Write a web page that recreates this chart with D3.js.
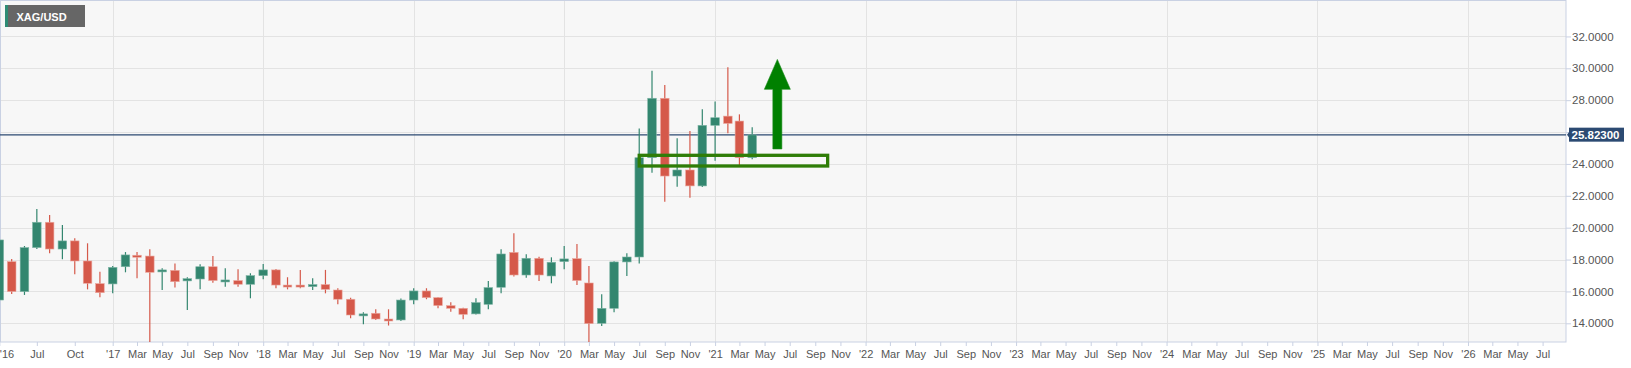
<!DOCTYPE html>
<html><head><meta charset="utf-8">
<script src="https://cdn.jsdelivr.net/npm/d3@7"></script>
<style>
body{margin:0;background:#fff;}
svg{display:block;font-family:"Liberation Sans",Arial,sans-serif;}
</style>
</head><body>
<svg id="c" width="1631" height="368"></svg>
<script>
// ---- data (monthly XAG/USD candles) ----
const months = ["2016-04","2016-05","2016-06","2016-07","2016-08","2016-09","2016-10","2016-11","2016-12",
"2017-01","2017-02","2017-03","2017-04","2017-05","2017-06","2017-07","2017-08","2017-09","2017-10","2017-11","2017-12",
"2018-01","2018-02","2018-03","2018-04","2018-05","2018-06","2018-07","2018-08","2018-09","2018-10","2018-11","2018-12",
"2019-01","2019-02","2019-03","2019-04","2019-05","2019-06","2019-07","2019-08","2019-09","2019-10","2019-11","2019-12",
"2020-01","2020-02","2020-03","2020-04","2020-05","2020-06","2020-07","2020-08","2020-09","2020-10","2020-11","2020-12",
"2021-01","2021-02","2021-03","2021-04"];
const open  = [15.46,17.87,15.99,18.75,20.34,18.66,19.17,17.91,16.49,
16.47,17.55,18.27,18.22,17.24,17.32,16.66,16.78,17.55,16.63,16.68,16.45,
16.99,17.35,16.40,16.40,16.30,16.43,16.09,15.51,14.48,14.63,14.27,14.21,
15.46,16.03,15.61,15.11,14.94,14.59,15.19,16.26,18.45,17.03,18.08,16.97,
17.87,18.06,16.53,14.00,14.94,17.85,18.16,24.39,28.12,23.24,23.62,22.62,
26.42,27.00,26.69,24.39];
const high  = [19.25,18.04,18.85,21.17,20.80,20.17,19.33,19.02,17.24,
17.60,18.47,18.47,18.64,17.45,17.76,16.89,17.70,18.22,17.45,17.39,17.14,
17.72,17.41,16.89,17.35,16.82,17.35,16.20,15.61,14.69,14.88,14.88,15.55,
16.20,16.20,15.63,15.32,14.98,15.57,16.66,18.64,19.65,18.33,18.18,18.14,
18.85,18.98,17.60,15.82,17.90,18.39,26.23,29.85,28.95,25.61,26.07,27.43,
27.91,30.06,27.11,26.30];
const low   = [14.73,15.84,15.78,18.66,18.39,18.02,17.07,16.13,15.63,
15.88,17.20,16.82,12.00,16.09,16.24,14.84,16.13,16.55,16.30,16.30,15.57,
16.76,16.20,16.13,16.20,16.09,15.88,15.19,14.31,13.94,14.21,13.86,14.15,
15.19,15.51,14.94,14.73,14.25,14.55,14.88,15.88,16.93,16.86,16.66,16.51,
17.39,16.40,11.64,13.83,14.69,16.97,17.76,23.45,21.63,22.57,21.88,22.55,
24.20,25.92,23.83,24.29];
const close = [19.23,15.99,18.75,20.34,18.66,19.17,17.91,16.51,15.92,
17.51,18.29,18.22,17.20,17.35,16.61,16.80,17.55,16.68,16.72,16.45,16.99,
17.35,16.40,16.32,16.30,16.43,16.13,15.51,14.52,14.59,14.27,14.17,15.46,
16.03,15.61,15.11,14.94,14.56,15.30,16.24,18.35,17.03,18.08,17.03,17.83,
18.04,16.68,13.98,14.94,17.85,18.16,24.39,28.12,23.24,23.62,22.62,26.42,
26.90,26.54,24.39,25.823];

const yGridValues = [14,16,18,20,22,24,26,28,30,32];
const yTickLabelValues = [14,16,18,20,22,24,28,30,32]; // 26 is hidden behind the last-price tag
const xTickDates = ["2016-04","2016-07","2016-10",
"2017-01","2017-03","2017-05","2017-07","2017-09","2017-11",
"2018-01","2018-03","2018-05","2018-07","2018-09","2018-11",
"2019-01","2019-03","2019-05","2019-07","2019-09","2019-11",
"2020-01","2020-03","2020-05","2020-07","2020-09","2020-11",
"2021-01","2021-03","2021-05","2021-07","2021-09","2021-11",
"2022-01","2022-03","2022-05","2022-07","2022-09","2022-11",
"2023-01","2023-03","2023-05","2023-07","2023-09","2023-11",
"2024-01","2024-03","2024-05","2024-07","2024-09","2024-11",
"2025-01","2025-03","2025-05","2025-07","2025-09","2025-11",
"2026-01","2026-03","2026-05","2026-07"];
const xTickLabels = ["'16","Jul","Oct",
"'17","Mar","May","Jul","Sep","Nov",
"'18","Mar","May","Jul","Sep","Nov",
"'19","Mar","May","Jul","Sep","Nov",
"'20","Mar","May","Jul","Sep","Nov",
"'21","Mar","May","Jul","Sep","Nov",
"'22","Mar","May","Jul","Sep","Nov",
"'23","Mar","May","Jul","Sep","Nov",
"'24","Mar","May","Jul","Sep","Nov",
"'25","Mar","May","Jul","Sep","Nov",
"'26","Mar","May","Jul"];
const yearLines = ["2017-01","2018-01","2019-01","2020-01","2021-01","2022-01","2023-01","2024-01","2025-01","2026-01"];

const lastPrice = 25.823;
const symbol = "XAG/USD";
// annotation: support box and up arrow
const boxDates = ["2020-07-01","2021-10-01"];
const boxPrices = [23.87, 24.54];
const arrowDate = "2021-06-01";
const arrowPrices = [24.94, 28.68, 30.56]; // base, head base, tip

// ---- layout ----
const W = 1631, H = 368;
const L = 0, R = 1566, T = 0, B = 342;
const parse = d3.timeParse("%Y-%m-%d");
const pm = s => parse(s.length === 7 ? s + "-01" : s);

const x = d3.scaleTime()
  .domain([pm("2017-01"), pm("2026-07")])
  .range([112.7, 1542.6]);
const y = d3.scaleLinear().domain([14, 30]).range([323.3, 68.3]);

const svg = d3.select("#c");
svg.append("rect").attr("x",0).attr("y",0).attr("width",W).attr("height",H).attr("fill","#ffffff");
svg.append("rect").attr("x",L).attr("y",T).attr("width",R-L).attr("height",B-T).attr("fill","#f7f7f7");

svg.append("defs").append("clipPath").attr("id","clip")
  .append("rect").attr("x",L).attr("y",T).attr("width",R-L).attr("height",B-T);

const grid = svg.append("g").attr("clip-path","url(#clip)");
grid.selectAll("line.h").data(yGridValues).join("line")
  .attr("x1",L).attr("x2",R)
  .attr("y1",d=>Math.round(y(d))+0.5).attr("y2",d=>Math.round(y(d))+0.5)
  .attr("stroke","#e3e3e3").attr("stroke-width",1);
grid.selectAll("line.v").data(yearLines).join("line")
  .attr("x1",d=>Math.round(x(pm(d)))+0.5).attr("x2",d=>Math.round(x(pm(d)))+0.5)
  .attr("y1",T).attr("y2",B)
  .attr("stroke","#e3e3e3").attr("stroke-width",1);

// plot border
svg.append("rect").attr("x",0.5).attr("y",0.5).attr("width",R-0.5).attr("height",B-0.5)
  .attr("fill","none").attr("stroke","#c9d1e3").attr("stroke-width",1);

// price line
svg.append("line").attr("x1",L).attr("x2",R)
  .attr("y1",y(lastPrice)).attr("y2",y(lastPrice))
  .attr("stroke","#2c4a72").attr("stroke-width",1.2);

// candles
const up = "#33866f", down = "#d5594a";
const bw = 8.6;
const cg = svg.append("g").attr("clip-path","url(#clip)");
const candles = months.map((m,i)=>({d:pm(m),o:open[i],h:high[i],l:low[i],c:close[i]}));
cg.selectAll("line.w").data(candles).join("line")
  .attr("x1",d=>x(d.d)).attr("x2",d=>x(d.d))
  .attr("y1",d=>y(d.h)).attr("y2",d=>y(d.l))
  .attr("stroke",d=>d.c>=d.o?up:down).attr("stroke-width",1.2);
cg.selectAll("rect.b").data(candles).join("rect")
  .attr("x",d=>x(d.d)-bw/2).attr("width",bw)
  .attr("y",d=>y(Math.max(d.o,d.c)))
  .attr("height",d=>Math.max(2,Math.abs(y(d.o)-y(d.c))))
  .attr("fill",d=>d.c>=d.o?up:down)
  .attr("stroke",d=>d.c>=d.o?"#7fb5a6":"#eba89f").attr("stroke-width",0.6);

// annotations
const ag = svg.append("g").attr("clip-path","url(#clip)");
ag.append("rect")
  .attr("x",x(pm(boxDates[0]))).attr("width",x(pm(boxDates[1]))-x(pm(boxDates[0])))
  .attr("y",y(boxPrices[1])).attr("height",y(boxPrices[0])-y(boxPrices[1]))
  .attr("fill","none").attr("stroke","#2f7d07").attr("stroke-width",3.3);
const ax = x(pm(arrowDate));
const shaftW = 4.5, headW = 13;
ag.append("polygon")
  .attr("points",[
    [ax-shaftW,y(arrowPrices[0])],[ax-shaftW,y(arrowPrices[1])],[ax-headW,y(arrowPrices[1])],
    [ax,y(arrowPrices[2])],
    [ax+headW,y(arrowPrices[1])],[ax+shaftW,y(arrowPrices[1])],[ax+shaftW,y(arrowPrices[0])]
  ].map(p=>p.join(",")).join(" "))
  .attr("fill","#008000").attr("stroke","#1a8a1a").attr("stroke-width",0.6);

// y axis: tick marks at every grid level, labels where visible
const ytg = svg.append("g").attr("transform",`translate(${R},0)`)
  .call(d3.axisRight(y).tickValues(yGridValues).tickFormat(()=>"").tickSize(5));
ytg.select(".domain").remove();
ytg.selectAll(".tick text").remove();
ytg.selectAll(".tick line").attr("stroke","#c9d1e3");
const yg = svg.append("g").attr("transform",`translate(${R},0)`)
  .call(d3.axisRight(y).tickValues(yTickLabelValues).tickFormat(d=>d.toFixed(4)).tickSize(5).tickPadding(1));
yg.select(".domain").remove();
yg.selectAll(".tick line").remove();
yg.selectAll(".tick text").attr("fill","#555").attr("font-size","11.5px")
  .attr("font-family","'Liberation Sans',Arial,sans-serif");

// x axis
const xAxis = d3.axisBottom(x).tickValues(xTickDates.map(pm))
  .tickFormat((d,i)=>xTickLabels[i]).tickSize(4).tickPadding(4);
const xg = svg.append("g").attr("transform",`translate(0,${B})`).call(xAxis);
xg.select(".domain").remove();
xg.selectAll(".tick line").attr("stroke","#c9d1e3");
xg.selectAll(".tick text").attr("fill","#555").attr("font-size","11px")
  .attr("font-family","'Liberation Sans',Arial,sans-serif");
xg.selectAll(".tick text").filter((d,i)=>i===0).attr("text-anchor","start").attr("x",0);

// last price label
const py = y(lastPrice);
const pl = svg.append("g");
pl.append("polygon").attr("points",`${R+1},${py} ${R+4},${py-4} ${R+4},${py+4}`).attr("fill","#2c4a72");
pl.append("rect").attr("x",R+3).attr("y",py-7.2).attr("width",55).attr("height",14).attr("fill","#2c4a72");
pl.append("text").attr("x",R+5.5).attr("y",py+4).attr("fill","#fff")
  .attr("font-size","11.5px").attr("font-weight","bold").text(lastPrice.toFixed(5));

// title
const tg = svg.append("g");
tg.append("rect").attr("x",5).attr("y",5).attr("width",80).attr("height",22).attr("fill","#666666");
tg.append("rect").attr("x",5).attr("y",5).attr("width",3).attr("height",22).attr("fill","#2e8b74");
tg.append("text").attr("x",16.5).attr("y",20.7).attr("fill","#fff")
  .attr("font-size","11px").attr("font-weight","bold").text(symbol);
</script>
</body></html>
